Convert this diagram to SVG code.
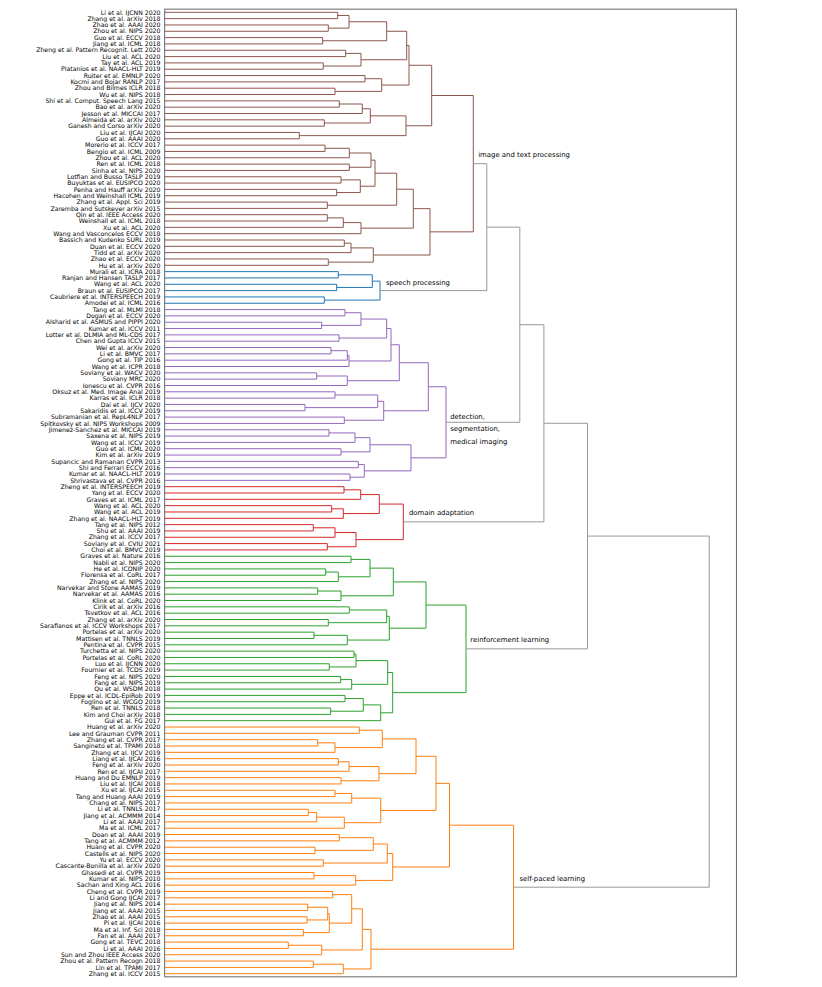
<svg xmlns="http://www.w3.org/2000/svg" width="822" height="987" viewBox="0 0 822 987">
<style>
text{font-family:"DejaVu Sans","Liberation Sans",sans-serif;fill:#000}
.lf{font-size:6.2px;text-anchor:end}
.cl{font-size:6.9px}
path{fill:none;stroke-width:1}
.br{stroke:#8c564b}.bl{stroke:#1f77b4}.pu{stroke:#9467bd}.rd{stroke:#d62728}.gn{stroke:#2ca02c}.or{stroke:#ff7f0e}.gy{stroke:#999}
</style>
<rect x="164.7" y="9.14" width="571.7" height="967.7" fill="#fff" stroke="#555" stroke-width="0.9"/>
<g id="connectors">
<g class="br">
<path d="M164.7 12.30H337.7V18.63H164.7"/>
<path d="M164.7 24.95H328.3V31.28H164.7"/>
<path d="M337.7 15.46H349V28.11H328.3"/>
<path d="M164.7 37.60H322.7V43.93H164.7"/>
<path d="M349 21.79H386.7V40.76H322.7"/>
<path d="M164.7 50.25H345.7V56.58H164.7"/>
<path d="M164.7 62.90H323.3V69.23H164.7"/>
<path d="M345.7 53.41H361V66.06H323.3"/>
<path d="M386.7 31.28H406.7V59.74H361"/>
<path d="M164.7 75.55H365V81.88H164.7"/>
<path d="M164.7 88.20H335V94.53H164.7"/>
<path d="M365 78.71H381.7V91.36H335"/>
<path d="M406.7 45.51H409V85.04H381.7"/>
<path d="M164.7 100.85H339.3V107.18H164.7"/>
<path d="M339.3 104.01H362.3V113.50H164.7"/>
<path d="M164.7 119.83H324.3V126.15H164.7"/>
<path d="M362.3 108.76H370.3V122.99H324.3"/>
<path d="M164.7 132.48H299.3V138.80H164.7"/>
<path d="M370.3 115.87H406V135.64H299.3"/>
<path d="M409 65.27H431.7V125.75H406"/>
<path d="M164.7 145.13H325V151.45H164.7"/>
<path d="M325 148.29H349.3V157.78H164.7"/>
<path d="M164.7 164.10H349.3V170.43H164.7"/>
<path d="M349.3 153.03H371V167.26H349.3"/>
<path d="M164.7 176.75H341V183.08H164.7"/>
<path d="M164.7 189.40H336.7V195.73H164.7"/>
<path d="M341 179.91H360.3V192.56H336.7"/>
<path d="M371 160.15H375V186.24H360.3"/>
<path d="M164.7 202.05H327.3V208.38H164.7"/>
<path d="M375 173.19H396.7V205.21H327.3"/>
<path d="M164.7 214.70H327.3V221.03H164.7"/>
<path d="M327.3 217.86H343.3V227.35H164.7"/>
<path d="M343.3 222.61H361V233.68H164.7"/>
<path d="M396.7 189.20H413.3V228.14H361"/>
<path d="M164.7 240.00H344.3V246.33H164.7"/>
<path d="M344.3 243.16H351V252.65H164.7"/>
<path d="M164.7 258.98H328.3V265.30H164.7"/>
<path d="M351 247.90H373.3V262.14H328.3"/>
<path d="M413.3 208.67H430V255.02H373.3"/>
<path d="M431.7 95.51H473.3V231.85H430"/>
</g>
<g class="bl">
<path d="M164.7 271.63H338.3V277.95H164.7"/>
<path d="M164.7 284.28H336.7V290.60H164.7"/>
<path d="M338.3 274.79H372.3V287.44H336.7"/>
<path d="M164.7 296.93H324.3V303.25H164.7"/>
<path d="M372.3 281.11H380V300.09H324.3"/>
</g>
<g class="pu">
<path d="M164.7 309.58H345V315.90H164.7"/>
<path d="M164.7 322.23H321.7V328.55H164.7"/>
<path d="M345 312.74H361V325.39H321.7"/>
<path d="M164.7 334.88H339V341.20H164.7"/>
<path d="M361 319.06H386.7V338.04H339"/>
<path d="M164.7 347.53H331V353.85H164.7"/>
<path d="M331 350.69H347.3V360.18H164.7"/>
<path d="M347.3 355.43H349V366.50H164.7"/>
<path d="M386.7 328.55H391V360.97H349"/>
<path d="M164.7 372.83H316.7V379.15H164.7"/>
<path d="M316.7 375.99H347.3V385.48H164.7"/>
<path d="M391 344.76H399.3V380.73H347.3"/>
<path d="M164.7 391.80H335V398.13H164.7"/>
<path d="M164.7 404.45H305V410.78H164.7"/>
<path d="M335 394.96H377.7V407.61H305"/>
<path d="M164.7 417.10H344.3V423.43H164.7"/>
<path d="M377.7 401.29H383.7V420.26H344.3"/>
<path d="M399.3 362.74H428.3V410.78H383.7"/>
<path d="M164.7 429.75H329V436.08H164.7"/>
<path d="M329 432.91H355V442.40H164.7"/>
<path d="M164.7 448.73H341V455.05H164.7"/>
<path d="M355 437.66H370V451.89H341"/>
<path d="M164.7 461.38H358.3V467.70H164.7"/>
<path d="M164.7 474.03H350V480.35H164.7"/>
<path d="M358.3 464.54H364.3V477.19H350"/>
<path d="M370 444.77H411V470.86H364.3"/>
<path d="M428.3 386.76H446V457.84H411"/>
</g>
<g class="rd">
<path d="M164.7 486.68H344V493.00H164.7"/>
<path d="M344 489.84H360.7V499.33H164.7"/>
<path d="M164.7 505.65H331.7V511.98H164.7"/>
<path d="M331.7 508.81H343.3V518.30H164.7"/>
<path d="M360.7 494.58H379.3V513.56H343.3"/>
<path d="M164.7 524.63H313.3V530.95H164.7"/>
<path d="M313.3 527.79H335V537.28H164.7"/>
<path d="M164.7 543.60H327.3V549.93H164.7"/>
<path d="M335 532.53H356V546.76H327.3"/>
<path d="M379.3 504.07H403.3V539.65H356"/>
</g>
<g class="gn">
<path d="M164.7 556.25H351V562.58H164.7"/>
<path d="M164.7 568.90H325.7V575.23H164.7"/>
<path d="M325.7 572.06H338.3V581.55H164.7"/>
<path d="M351 559.41H370V576.81H338.3"/>
<path d="M164.7 587.88H317.7V594.20H164.7"/>
<path d="M317.7 591.04H341V600.53H164.7"/>
<path d="M370 568.11H393.3V595.78H341"/>
<path d="M164.7 606.85H349.3V613.18H164.7"/>
<path d="M164.7 619.50H328.3V625.83H164.7"/>
<path d="M349.3 610.01H386.7V622.66H328.3"/>
<path d="M164.7 632.15H314V638.48H164.7"/>
<path d="M314 635.31H347.3V644.80H164.7"/>
<path d="M386.7 616.34H389.3V640.06H347.3"/>
<path d="M393.3 581.94H426V628.20H389.3"/>
<path d="M164.7 651.13H354V657.45H164.7"/>
<path d="M164.7 663.78H329.3V670.10H164.7"/>
<path d="M354 654.29H356V666.94H329.3"/>
<path d="M164.7 676.43H340.7V682.75H164.7"/>
<path d="M340.7 679.59H351.7V689.08H164.7"/>
<path d="M356 660.61H387.7V684.33H351.7"/>
<path d="M164.7 695.40H345V701.73H164.7"/>
<path d="M164.7 708.05H330.7V714.38H164.7"/>
<path d="M345 698.56H363.3V711.21H330.7"/>
<path d="M363.3 704.89H380.7V720.70H164.7"/>
<path d="M387.7 672.47H392.7V712.79H380.7"/>
<path d="M426 605.07H466V692.63H392.7"/>
</g>
<g class="or">
<path d="M164.7 727.03H359.3V733.35H164.7"/>
<path d="M164.7 739.68H317.7V746.00H164.7"/>
<path d="M317.7 742.84H335V752.33H164.7"/>
<path d="M359.3 730.19H382.3V747.58H335"/>
<path d="M164.7 758.65H338.3V764.98H164.7"/>
<path d="M338.3 761.81H349V771.30H164.7"/>
<path d="M164.7 777.63H341V783.95H164.7"/>
<path d="M349 766.56H379V780.79H341"/>
<path d="M382.3 738.89H416V773.67H379"/>
<path d="M164.7 790.28H335V796.60H164.7"/>
<path d="M335 793.44H351.7V802.93H164.7"/>
<path d="M164.7 809.25H308.3V815.58H164.7"/>
<path d="M308.3 812.41H316.7V821.90H164.7"/>
<path d="M316.7 817.16H344.3V828.23H164.7"/>
<path d="M351.7 798.18H380.7V822.69H344.3"/>
<path d="M416 756.28H436V810.44H380.7"/>
<path d="M164.7 834.55H339.3V840.88H164.7"/>
<path d="M164.7 847.20H315V853.53H164.7"/>
<path d="M339.3 837.71H373.3V850.36H315"/>
<path d="M164.7 859.85H323.3V866.18H164.7"/>
<path d="M373.3 844.04H387.3V863.01H323.3"/>
<path d="M164.7 872.50H314V878.83H164.7"/>
<path d="M314 875.66H355.7V885.15H164.7"/>
<path d="M387.3 853.53H392.7V880.41H355.7"/>
<path d="M436 783.36H449.5V866.97H392.7"/>
<path d="M164.7 891.48H332.7V897.80H164.7"/>
<path d="M164.7 904.13H307.7V910.45H164.7"/>
<path d="M164.7 916.78H307V923.10H164.7"/>
<path d="M307.7 907.29H327.7V919.94H307"/>
<path d="M164.7 929.43H303.3V935.75H164.7"/>
<path d="M327.7 913.61H329.3V932.59H303.3"/>
<path d="M332.7 894.64H351.7V923.10H329.3"/>
<path d="M164.7 942.08H288.3V948.40H164.7"/>
<path d="M288.3 945.24H321.7V954.73H164.7"/>
<path d="M351.7 908.87H362.3V949.98H321.7"/>
<path d="M164.7 961.05H313.3V967.38H164.7"/>
<path d="M313.3 964.21H343.3V973.70H164.7"/>
<path d="M362.3 929.43H371V968.96H343.3"/>
<path d="M449.5 825.16H513.5V949.19H371"/>
</g>
<g class="gy">
<path d="M473.3 163.68H486.8V290.60H380"/>
<path d="M486.8 227.14H519.8V422.29H446"/>
<path d="M519.8 324.71H543.9V521.88H403.3"/>
<path d="M543.9 423.29H587.5V648.86H466"/>
<path d="M587.5 536.09H709.2V887.19H513.5"/>
</g>
</g>
<g id="cluster-image-text"><text class="cl" x="478.2" y="157.2">image and text processing</text></g>
<g id="cluster-speech"><text class="cl" x="386" y="284.6">speech processing</text></g>
<g id="cluster-detection"><text class="cl" x="450.2" y="418.8">detection,</text><text class="cl" x="450.2" y="431.3">segmentation,</text><text class="cl" x="450.2" y="444.3">medical imaging</text></g>
<g id="cluster-domain"><text class="cl" x="408.9" y="515.1">domain adaptation</text></g>
<g id="cluster-rl"><text class="cl" x="470.3" y="641.9">reinforcement learning</text></g>
<g id="cluster-spl"><text class="cl" x="519.5" y="880.9">self-paced learning</text></g>
<g id="leaves">
<g id="n1"><text class="lf" x="160.5" y="14.50">Li et al. IJCNN 2020</text></g>
<g id="n2"><text class="lf" x="160.5" y="20.83">Zhang et al. arXiv 2018</text></g>
<g id="n3"><text class="lf" x="160.5" y="27.15">Zhao et al. AAAI 2020</text></g>
<g id="n4"><text class="lf" x="160.5" y="33.48">Zhou et al. NIPS 2020</text></g>
<g id="n5"><text class="lf" x="160.5" y="39.80">Guo et al. ECCV 2018</text></g>
<g id="n6"><text class="lf" x="160.5" y="46.13">Jiang et al. ICML 2018</text></g>
<g id="n7"><text class="lf" x="160.5" y="52.45">Zheng et al. Pattern Recognit. Lett 2020</text></g>
<g id="n8"><text class="lf" x="160.5" y="58.78">Liu et al. ACL 2020</text></g>
<g id="n9"><text class="lf" x="160.5" y="65.10">Tay et al. ACL 2019</text></g>
<g id="n10"><text class="lf" x="160.5" y="71.43">Platanios et al. NAACL-HLT 2019</text></g>
<g id="n11"><text class="lf" x="160.5" y="77.75">Ruiter et al. EMNLP 2020</text></g>
<g id="n12"><text class="lf" x="160.5" y="84.08">Kocmi and Bojar RANLP 2017</text></g>
<g id="n13"><text class="lf" x="160.5" y="90.40">Zhou and Bilmes ICLR 2018</text></g>
<g id="n14"><text class="lf" x="160.5" y="96.73">Wu et al. NIPS 2018</text></g>
<g id="n15"><text class="lf" x="160.5" y="103.05">Shi et al. Comput. Speech Lang 2015</text></g>
<g id="n16"><text class="lf" x="160.5" y="109.38">Bao et al. arXiv 2020</text></g>
<g id="n17"><text class="lf" x="160.5" y="115.70">Jesson et al. MICCAI 2017</text></g>
<g id="n18"><text class="lf" x="160.5" y="122.03">Almeida et al. arXiv 2020</text></g>
<g id="n19"><text class="lf" x="160.5" y="128.35">Ganesh and Corso arXiv 2020</text></g>
<g id="n20"><text class="lf" x="160.5" y="134.68">Liu et al. IJCAI 2020</text></g>
<g id="n21"><text class="lf" x="160.5" y="141.00">Guo et al. AAAI 2020</text></g>
<g id="n22"><text class="lf" x="160.5" y="147.33">Morerio et al. ICCV 2017</text></g>
<g id="n23"><text class="lf" x="160.5" y="153.65">Bengio et al. ICML 2009</text></g>
<g id="n24"><text class="lf" x="160.5" y="159.98">Zhou et al. ACL 2020</text></g>
<g id="n25"><text class="lf" x="160.5" y="166.30">Ren et al. ICML 2018</text></g>
<g id="n26"><text class="lf" x="160.5" y="172.63">Sinha et al. NIPS 2020</text></g>
<g id="n27"><text class="lf" x="160.5" y="178.95">Lotfian and Busso TASLP 2019</text></g>
<g id="n28"><text class="lf" x="160.5" y="185.28">Buyuktas et al. EUSIPCO 2020</text></g>
<g id="n29"><text class="lf" x="160.5" y="191.60">Penha and Hauff arXiv 2020</text></g>
<g id="n30"><text class="lf" x="160.5" y="197.93">Hacohen and Weinshall ICML 2019</text></g>
<g id="n31"><text class="lf" x="160.5" y="204.25">Zhang et al. Appl. Sci 2019</text></g>
<g id="n32"><text class="lf" x="160.5" y="210.58">Zaremba and Sutskever arXiv 2015</text></g>
<g id="n33"><text class="lf" x="160.5" y="216.90">Qin et al. IEEE Access 2020</text></g>
<g id="n34"><text class="lf" x="160.5" y="223.23">Weinshall et al. ICML 2018</text></g>
<g id="n35"><text class="lf" x="160.5" y="229.55">Xu et al. ACL 2020</text></g>
<g id="n36"><text class="lf" x="160.5" y="235.88">Wang and Vasconcelos ECCV 2018</text></g>
<g id="n37"><text class="lf" x="160.5" y="242.20">Bassich and Kudenko SURL 2019</text></g>
<g id="n38"><text class="lf" x="160.5" y="248.53">Duan et al. ECCV 2020</text></g>
<g id="n39"><text class="lf" x="160.5" y="254.85">Tidd et al. arXiv 2020</text></g>
<g id="n40"><text class="lf" x="160.5" y="261.18">Zhao et al. ECCV 2020</text></g>
<g id="n41"><text class="lf" x="160.5" y="267.50">Hu et al. arXiv 2020</text></g>
<g id="n42"><text class="lf" x="160.5" y="273.83">Murali et al. ICRA 2018</text></g>
<g id="n43"><text class="lf" x="160.5" y="280.15">Ranjan and Hansen TASLP 2017</text></g>
<g id="n44"><text class="lf" x="160.5" y="286.48">Wang et al. ACL 2020</text></g>
<g id="n45"><text class="lf" x="160.5" y="292.80">Braun et al. EUSIPCO 2017</text></g>
<g id="n46"><text class="lf" x="160.5" y="299.13">Caubriere et al. INTERSPEECH 2019</text></g>
<g id="n47"><text class="lf" x="160.5" y="305.45">Amodei et al. ICML 2016</text></g>
<g id="n48"><text class="lf" x="160.5" y="311.78">Tang et al. MLMI 2018</text></g>
<g id="n49"><text class="lf" x="160.5" y="318.10">Dogan et al. ECCV 2020</text></g>
<g id="n50"><text class="lf" x="160.5" y="324.43">Alsharid et al. ASMUS and PIPPI 2020</text></g>
<g id="n51"><text class="lf" x="160.5" y="330.75">Kumar et al. ICCV 2011</text></g>
<g id="n52"><text class="lf" x="160.5" y="337.08">Lotter et al. DLMIA and ML-CDS 2017</text></g>
<g id="n53"><text class="lf" x="160.5" y="343.40">Chen and Gupta ICCV 2015</text></g>
<g id="n54"><text class="lf" x="160.5" y="349.73">Wei et al. arXiv 2020</text></g>
<g id="n55"><text class="lf" x="160.5" y="356.05">Li et al. BMVC 2017</text></g>
<g id="n56"><text class="lf" x="160.5" y="362.38">Gong et al. TIP 2016</text></g>
<g id="n57"><text class="lf" x="160.5" y="368.70">Wang et al. ICPR 2018</text></g>
<g id="n58"><text class="lf" x="160.5" y="375.03">Soviany et al. WACV 2020</text></g>
<g id="n59"><text class="lf" x="160.5" y="381.35">Soviany MRC 2020</text></g>
<g id="n60"><text class="lf" x="160.5" y="387.68">Ionescu et al. CVPR 2016</text></g>
<g id="n61"><text class="lf" x="160.5" y="394.00">Oksuz et al. Med. Image Anal 2019</text></g>
<g id="n62"><text class="lf" x="160.5" y="400.33">Karras et al. ICLR 2018</text></g>
<g id="n63"><text class="lf" x="160.5" y="406.65">Dai et al. IJCV 2020</text></g>
<g id="n64"><text class="lf" x="160.5" y="412.98">Sakaridis et al. ICCV 2019</text></g>
<g id="n65"><text class="lf" x="160.5" y="419.30">Subramanian et al. RepL4NLP 2017</text></g>
<g id="n66"><text class="lf" x="160.5" y="425.63">Spitkovsky et al. NIPS Workshops 2009</text></g>
<g id="n67"><text class="lf" x="160.5" y="431.95">Jimenez-Sanchez et al. MICCAI 2019</text></g>
<g id="n68"><text class="lf" x="160.5" y="438.28">Saxena et al. NIPS 2019</text></g>
<g id="n69"><text class="lf" x="160.5" y="444.60">Wang et al. ICCV 2019</text></g>
<g id="n70"><text class="lf" x="160.5" y="450.93">Guo et al. ICML 2020</text></g>
<g id="n71"><text class="lf" x="160.5" y="457.25">Kim et al. arXiv 2019</text></g>
<g id="n72"><text class="lf" x="160.5" y="463.58">Supancic and Ramanan CVPR 2013</text></g>
<g id="n73"><text class="lf" x="160.5" y="469.90">Shi and Ferrari ECCV 2016</text></g>
<g id="n74"><text class="lf" x="160.5" y="476.23">Kumar et al. NAACL-HLT 2019</text></g>
<g id="n75"><text class="lf" x="160.5" y="482.55">Shrivastava et al. CVPR 2016</text></g>
<g id="n76"><text class="lf" x="160.5" y="488.88">Zheng et al. INTERSPEECH 2019</text></g>
<g id="n77"><text class="lf" x="160.5" y="495.20">Yang et al. ECCV 2020</text></g>
<g id="n78"><text class="lf" x="160.5" y="501.53">Graves et al. ICML 2017</text></g>
<g id="n79"><text class="lf" x="160.5" y="507.85">Wang et al. ACL 2020</text></g>
<g id="n80"><text class="lf" x="160.5" y="514.18">Wang et al. ACL 2019</text></g>
<g id="n81"><text class="lf" x="160.5" y="520.50">Zhang et al. NAACL-HLT 2019</text></g>
<g id="n82"><text class="lf" x="160.5" y="526.83">Tang et al. NIPS 2012</text></g>
<g id="n83"><text class="lf" x="160.5" y="533.15">Shu et al. AAAI 2019</text></g>
<g id="n84"><text class="lf" x="160.5" y="539.48">Zhang et al. ICCV 2017</text></g>
<g id="n85"><text class="lf" x="160.5" y="545.80">Soviany et al. CVIU 2021</text></g>
<g id="n86"><text class="lf" x="160.5" y="552.13">Choi et al. BMVC 2019</text></g>
<g id="n87"><text class="lf" x="160.5" y="558.45">Graves et al. Nature 2016</text></g>
<g id="n88"><text class="lf" x="160.5" y="564.78">Nabli et al. NIPS 2020</text></g>
<g id="n89"><text class="lf" x="160.5" y="571.10">He et al. ICONIP 2020</text></g>
<g id="n90"><text class="lf" x="160.5" y="577.43">Florensa et al. CoRL 2017</text></g>
<g id="n91"><text class="lf" x="160.5" y="583.75">Zhang et al. NIPS 2020</text></g>
<g id="n92"><text class="lf" x="160.5" y="590.08">Narvekar and Stone AAMAS 2019</text></g>
<g id="n93"><text class="lf" x="160.5" y="596.40">Narvekar et al. AAMAS 2016</text></g>
<g id="n94"><text class="lf" x="160.5" y="602.73">Klink et al. CoRL 2020</text></g>
<g id="n95"><text class="lf" x="160.5" y="609.05">Cirik et al. arXiv 2016</text></g>
<g id="n96"><text class="lf" x="160.5" y="615.38">Tsvetkov et al. ACL 2016</text></g>
<g id="n97"><text class="lf" x="160.5" y="621.70">Zhang et al. arXiv 2020</text></g>
<g id="n98"><text class="lf" x="160.5" y="628.03">Sarafianos et al. ICCV Workshops 2017</text></g>
<g id="n99"><text class="lf" x="160.5" y="634.35">Portelas et al. arXiv 2020</text></g>
<g id="n100"><text class="lf" x="160.5" y="640.68">Mattisen et al. TNNLS 2019</text></g>
<g id="n101"><text class="lf" x="160.5" y="647.00">Pentina et al. CVPR 2015</text></g>
<g id="n102"><text class="lf" x="160.5" y="653.33">Turchetta et al. NIPS 2020</text></g>
<g id="n103"><text class="lf" x="160.5" y="659.65">Portelas et al. CoRL 2020</text></g>
<g id="n104"><text class="lf" x="160.5" y="665.98">Luo et al. IJCNN 2020</text></g>
<g id="n105"><text class="lf" x="160.5" y="672.30">Fournier et al. TCDS 2019</text></g>
<g id="n106"><text class="lf" x="160.5" y="678.63">Feng et al. NIPS 2020</text></g>
<g id="n107"><text class="lf" x="160.5" y="684.95">Fang et al. NIPS 2019</text></g>
<g id="n108"><text class="lf" x="160.5" y="691.28">Qu et al. WSDM 2018</text></g>
<g id="n109"><text class="lf" x="160.5" y="697.60">Eppe et al. ICDL-EpiRob 2019</text></g>
<g id="n110"><text class="lf" x="160.5" y="703.93">Foglino et al. WCGO 2019</text></g>
<g id="n111"><text class="lf" x="160.5" y="710.25">Ren et al. TNNLS 2018</text></g>
<g id="n112"><text class="lf" x="160.5" y="716.58">Kim and Choi arXiv 2018</text></g>
<g id="n113"><text class="lf" x="160.5" y="722.90">Gui et al. FG 2017</text></g>
<g id="n114"><text class="lf" x="160.5" y="729.23">Huang et al. arXiv 2020</text></g>
<g id="n115"><text class="lf" x="160.5" y="735.55">Lee and Grauman CVPR 2011</text></g>
<g id="n116"><text class="lf" x="160.5" y="741.88">Zhang et al. CVPR 2017</text></g>
<g id="n117"><text class="lf" x="160.5" y="748.20">Sangineto et al. TPAMI 2018</text></g>
<g id="n118"><text class="lf" x="160.5" y="754.53">Zhang et al. IJCV 2019</text></g>
<g id="n119"><text class="lf" x="160.5" y="760.85">Liang et al. IJCAI 2016</text></g>
<g id="n120"><text class="lf" x="160.5" y="767.18">Feng et al. arXiv 2020</text></g>
<g id="n121"><text class="lf" x="160.5" y="773.50">Ren et al. IJCAI 2017</text></g>
<g id="n122"><text class="lf" x="160.5" y="779.83">Huang and Du EMNLP 2019</text></g>
<g id="n123"><text class="lf" x="160.5" y="786.15">Liu et al. IJCAI 2018</text></g>
<g id="n124"><text class="lf" x="160.5" y="792.48">Xu et al. IJCAI 2015</text></g>
<g id="n125"><text class="lf" x="160.5" y="798.80">Tang and Huang AAAI 2019</text></g>
<g id="n126"><text class="lf" x="160.5" y="805.13">Chang et al. NIPS 2017</text></g>
<g id="n127"><text class="lf" x="160.5" y="811.45">Li et al. TNNLS 2017</text></g>
<g id="n128"><text class="lf" x="160.5" y="817.78">Jiang et al. ACMMM 2014</text></g>
<g id="n129"><text class="lf" x="160.5" y="824.10">Li et al. AAAI 2017</text></g>
<g id="n130"><text class="lf" x="160.5" y="830.43">Ma et al. ICML 2017</text></g>
<g id="n131"><text class="lf" x="160.5" y="836.75">Doan et al. AAAI 2019</text></g>
<g id="n132"><text class="lf" x="160.5" y="843.08">Tang et al. ACMMM 2012</text></g>
<g id="n133"><text class="lf" x="160.5" y="849.40">Huang et al. CVPR 2020</text></g>
<g id="n134"><text class="lf" x="160.5" y="855.73">Castells et al. NIPS 2020</text></g>
<g id="n135"><text class="lf" x="160.5" y="862.05">Yu et al. ECCV 2020</text></g>
<g id="n136"><text class="lf" x="160.5" y="868.38">Cascante-Bonilla et al. arXiv 2020</text></g>
<g id="n137"><text class="lf" x="160.5" y="874.70">Ghasedi et al. CVPR 2019</text></g>
<g id="n138"><text class="lf" x="160.5" y="881.03">Kumar et al. NIPS 2010</text></g>
<g id="n139"><text class="lf" x="160.5" y="887.35">Sachan and Xing ACL 2016</text></g>
<g id="n140"><text class="lf" x="160.5" y="893.68">Cheng et al. CVPR 2019</text></g>
<g id="n141"><text class="lf" x="160.5" y="900.00">Li and Gong IJCAI 2017</text></g>
<g id="n142"><text class="lf" x="160.5" y="906.33">Jiang et al. NIPS 2014</text></g>
<g id="n143"><text class="lf" x="160.5" y="912.65">Jiang et al. AAAI 2015</text></g>
<g id="n144"><text class="lf" x="160.5" y="918.98">Zhao et al. AAAI 2015</text></g>
<g id="n145"><text class="lf" x="160.5" y="925.30">Pi et al. IJCAI 2016</text></g>
<g id="n146"><text class="lf" x="160.5" y="931.63">Ma et al. Inf. Sci 2018</text></g>
<g id="n147"><text class="lf" x="160.5" y="937.95">Fan et al. AAAI 2017</text></g>
<g id="n148"><text class="lf" x="160.5" y="944.28">Gong et al. TEVC 2018</text></g>
<g id="n149"><text class="lf" x="160.5" y="950.60">Li et al. AAAI 2016</text></g>
<g id="n150"><text class="lf" x="160.5" y="956.93">Sun and Zhou IEEE Access 2020</text></g>
<g id="n151"><text class="lf" x="160.5" y="963.25">Zhou et al. Pattern Recogn 2018</text></g>
<g id="n152"><text class="lf" x="160.5" y="969.58">Lin et al. TPAMI 2017</text></g>
<g id="n153"><text class="lf" x="160.5" y="975.90">Zhang et al. ICCV 2015</text></g>
</g>
</svg>
